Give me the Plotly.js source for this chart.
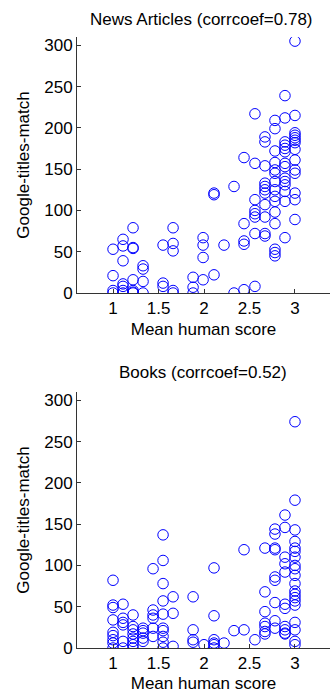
<!DOCTYPE html>
<html>
<head>
<meta charset="utf-8">
<script src="https://cdn.plot.ly/plotly-3.0.1.min.js"></script>
<style>html,body{margin:0;padding:0;background:#fff;}#chart{width:330px;height:693px;}</style>
</head>
<body>
<div id="chart"></div>
<script>
// News Articles: mean human score vs Google-titles-match
const newsX = [
  1.0,1.0,1.0,1.0,
  1.11,1.11,1.11,1.11,1.11,1.11,1.11,
  1.22,1.22,1.22,1.22,1.22,1.22,1.22,
  1.33,1.33,1.33,1.33,
  1.55,1.55,1.55,
  1.66,1.66,1.66,1.66,1.66,
  1.88,1.88,1.88,
  1.99,1.99,1.99,1.99,
  2.11,2.11,2.11,
  2.22,
  2.33,2.33,
  2.44,2.44,2.44,2.44,2.44,
  2.56,2.56,2.56,2.56,2.56,2.56,2.56,2.56,
  2.67,2.67,2.67,2.67,2.67,2.67,2.67,2.67,2.67,2.67,2.67,
  2.78,2.78,2.78,2.78,2.78,2.78,2.78,2.78,2.78,2.78,2.78,2.78,2.78,2.78,2.78,
  2.89,2.89,2.89,2.89,2.89,2.89,2.89,2.89,2.89,2.89,2.89,2.89,2.89,2.89,
  3.0,3.0,3.0,3.0,3.0,3.0,3.0,3.0,3.0,3.0,3.0,3.0,3.0,3.0
];
const newsY = [
  53,21,3,0,
  65,57,39,11,8,3,0,
  79,55,54,16,3,1,0,
  33,29,14,0,
  58,12,8,
  79,60,51,3,0,
  19,7,0,
  67,58,43,16,
  121,119,22,
  58,
  129,0,
  164,84,63,59,4,
  217,157,113,100,96,92,72,8,
  189,183,154,133,129,125,121,107,92,72,69,
  209,199,172,158,149,145,135,125,117,111,98,84,53,49,45,
  239,212,183,179,175,171,157,153,139,135,131,123,111,67,
  305,215,194,191,188,185,182,174,161,149,145,121,113,89
];

// Books: mean human score vs Google-titles-match
const booksX = [
  1.0,1.0,1.0,1.0,1.0,1.0,1.0,1.0,1.0,
  1.11,1.11,1.11,1.11,1.11,1.11,
  1.22,1.22,1.22,1.22,1.22,1.22,1.22,1.22,
  1.33,1.33,1.33,1.33,1.33,
  1.44,1.44,1.44,1.44,1.44,1.44,
  1.55,1.55,1.55,1.55,1.55,1.55,1.55,1.55,1.55,1.55,
  1.66,1.66,1.66,
  1.88,1.88,1.88,1.88,
  2.0,
  2.11,2.11,2.11,2.11,2.11,2.11,
  2.22,
  2.33,
  2.44,2.44,
  2.56,
  2.67,2.67,2.67,2.67,2.67,2.67,2.67,
  2.78,2.78,2.78,2.78,2.78,2.78,2.78,2.78,2.78,
  2.89,2.89,2.89,2.89,2.89,2.89,2.89,2.89,2.89,2.89,2.89,
  3.0,3.0,3.0,3.0,3.0,3.0,3.0,3.0,3.0,3.0,3.0,3.0,3.0,3.0,3.0,3.0,3.0,3.0,3.0,3.0
];
const booksY = [
  82,52,49,34,19,15,10,6,0,
  53,36,31,28,8,0,
  40,26,22,17,12,8,4,0,
  24,21,18,12,8,
  96,46,40,36,24,14,
  137,106,78,57,41,24,21,14,7,0,
  62,42,2,
  62,22,10,7,
  4,
  97,39,10,6,4,0,
  6,
  21,
  119,22,
  10,
  121,68,44,30,26,20,17,
  144,138,121,119,86,82,55,33,24,
  161,146,110,102,92,53,48,26,22,18,17,
  274,179,143,129,121,117,110,100,96,88,78,69,65,61,57,52,31,22,8,4
];

const xTickVals = [1, 1.5, 2, 2.5, 3];
const xTickText = ['1', '1.5', '2', '2.5', '3'];
const yTickVals = [0, 50, 100, 150, 200, 250, 300];
const yTickText = ['0', '50', '100', '150', '200', '250', '300'];
const titles = ['News Articles (corrcoef=0.78)', 'Books (corrcoef=0.52)'];
const xLabel = 'Mean human score';
const yLabel = 'Google-titles-match';

const H = 693, W = 330;
const FONT = 'Liberation Sans, Arial, sans-serif';
const marker = {symbol: 'circle-open', size: 10.5, color: '#0000ff', line: {width: 1, color: '#0000ff'}};

const traces = [
  {x: newsX, y: newsY, type: 'scatter', mode: 'markers', marker: marker, xaxis: 'x', yaxis: 'y', hoverinfo: 'x+y'},
  {x: booksX, y: booksY, type: 'scatter', mode: 'markers', marker: marker, xaxis: 'x2', yaxis: 'y2', hoverinfo: 'x+y'}
];

function xax(anchor) {
  return {
    domain: [77 / W, 1], anchor: anchor, range: [0.604, 3.385],
    tickvals: xTickVals, ticktext: xTickText,
    ticks: 'inside', ticklen: 4, tickwidth: 1, tickcolor: '#333',
    showline: true, linecolor: '#333', linewidth: 1,
    showgrid: false, zeroline: false, mirror: false,
    tickfont: {family: FONT, size: 17, color: '#000'},
    title: {text: xLabel, font: {family: FONT, size: 17, color: '#000'}, standoff: 5},
    automargin: false
  };
}
function yax(anchor, top, bottom) {
  return {
    domain: [1 - bottom / H, 1 - top / H], anchor: anchor, range: [0, 310],
    tickvals: yTickVals, ticktext: yTickText,
    ticks: 'inside', ticklen: 4, tickwidth: 1, tickcolor: '#333',
    showline: true, linecolor: '#333', linewidth: 1,
    showgrid: false, zeroline: false, mirror: false,
    tickfont: {family: FONT, size: 17, color: '#000'},
    title: {text: yLabel, font: {family: FONT, size: 17, color: '#000'}, standoff: 10},
    automargin: false
  };
}

const layout = {
  width: W, height: H,
  margin: {l: 0, r: 0, t: 0, b: 0},
  paper_bgcolor: '#fff', plot_bgcolor: '#fff',
  showlegend: false,
  xaxis: xax('y'),
  yaxis: yax('x', 37, 293),
  xaxis2: xax('y2'),
  yaxis2: yax('x2', 392, 648),
  annotations: [
    {text: titles[0], xref: 'paper', yref: 'paper', x: 202 / W, y: 1 - 19 / H, xanchor: 'center', yanchor: 'middle', showarrow: false, font: {family: FONT, size: 17, color: '#000'}},
    {text: titles[1], xref: 'paper', yref: 'paper', x: 203 / W, y: 1 - 373 / H, xanchor: 'center', yanchor: 'middle', showarrow: false, font: {family: FONT, size: 17, color: '#000'}}
  ]
};

Plotly.newPlot('chart', traces, layout, {displayModeBar: false, staticPlot: true});
</script>
</body>
</html>
